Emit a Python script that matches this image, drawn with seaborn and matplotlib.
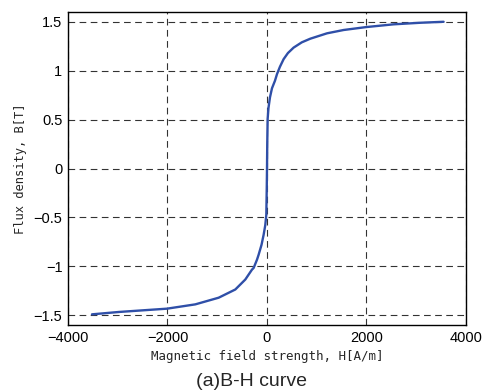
import matplotlib
matplotlib.use("Agg")
import matplotlib.pyplot as plt
import seaborn as sns
import pandas as pd

# B-H curve data
H = [-3518, -2983, -2010, -1441, -972, -637, -436, -302, -268, -201, -168, -110, -68, -35, -14,
     -5, 0, 5, 13, 30, 60, 100, 160, 201, 260, 334, 420, 535, 700, 870, 1206, 1540, 1996,
     2545, 3081, 3550]
B = [-1.491, -1.467, -1.433, -1.389, -1.321, -1.237, -1.135, -1.034, -1.016, -0.932, -0.881,
     -0.78, -0.678, -0.58, -0.475, -0.20, 0.0, 0.25, 0.508, 0.62, 0.728, 0.82, 0.897, 0.965,
     1.04, 1.118, 1.18, 1.236, 1.29, 1.327, 1.382, 1.416, 1.446, 1.474, 1.49, 1.50]

x_ticks = [-4000, -2000, 0, 2000, 4000]
x_labels = ["\u22124000", "\u22122000", "0", "2000", "4000"]
y_ticks = [-1.5, -1, -0.5, 0, 0.5, 1, 1.5]
y_labels = ["\u22121.5", "\u22121", "\u22120.5", "0", "0.5", "1", "1.5"]

sns.set_style("white")
plt.rcParams['font.family'] = ['Liberation Sans', 'DejaVu Sans']

df = pd.DataFrame({"H": H, "B": B})

fig = plt.figure(figsize=(4.85, 3.91), dpi=100)
ax = fig.add_axes([68/485, 1-325/391, (466-68)/485, (325-12)/391])

sns.lineplot(data=df, x="H", y="B", sort=False, ax=ax, color="#2f4fa8", linewidth=1.7)

ax.set_xlim(-4000, 4000)
ax.set_ylim(-1.6, 1.6)
ax.set_xticks(x_ticks)
ax.set_xticklabels(x_labels, fontsize=10.5)
ax.set_yticks(y_ticks)
ax.set_yticklabels(y_labels, fontsize=10.5)
ax.tick_params(direction="in", length=3, width=0.8, colors="black", pad=4)
ax.grid(True, color="black", linestyle=(0, (6, 4)), linewidth=0.8, alpha=0.8)
for s in ax.spines.values():
    s.set_color("black")
    s.set_linewidth(1.0)

ax.set_xlabel("Magnetic field strength, H[A/m]", fontsize=9,
              family=['DejaVu Sans Mono'], labelpad=4)
ax.set_ylabel("Flux density, B[T]", fontsize=8.7,
              family=['DejaVu Sans Mono'], labelpad=5)

fig.text(252/485, 1-381/391, "(a)B-H curve", fontsize=14, ha="center", va="center")

fig.savefig("out.png", dpi=100)
